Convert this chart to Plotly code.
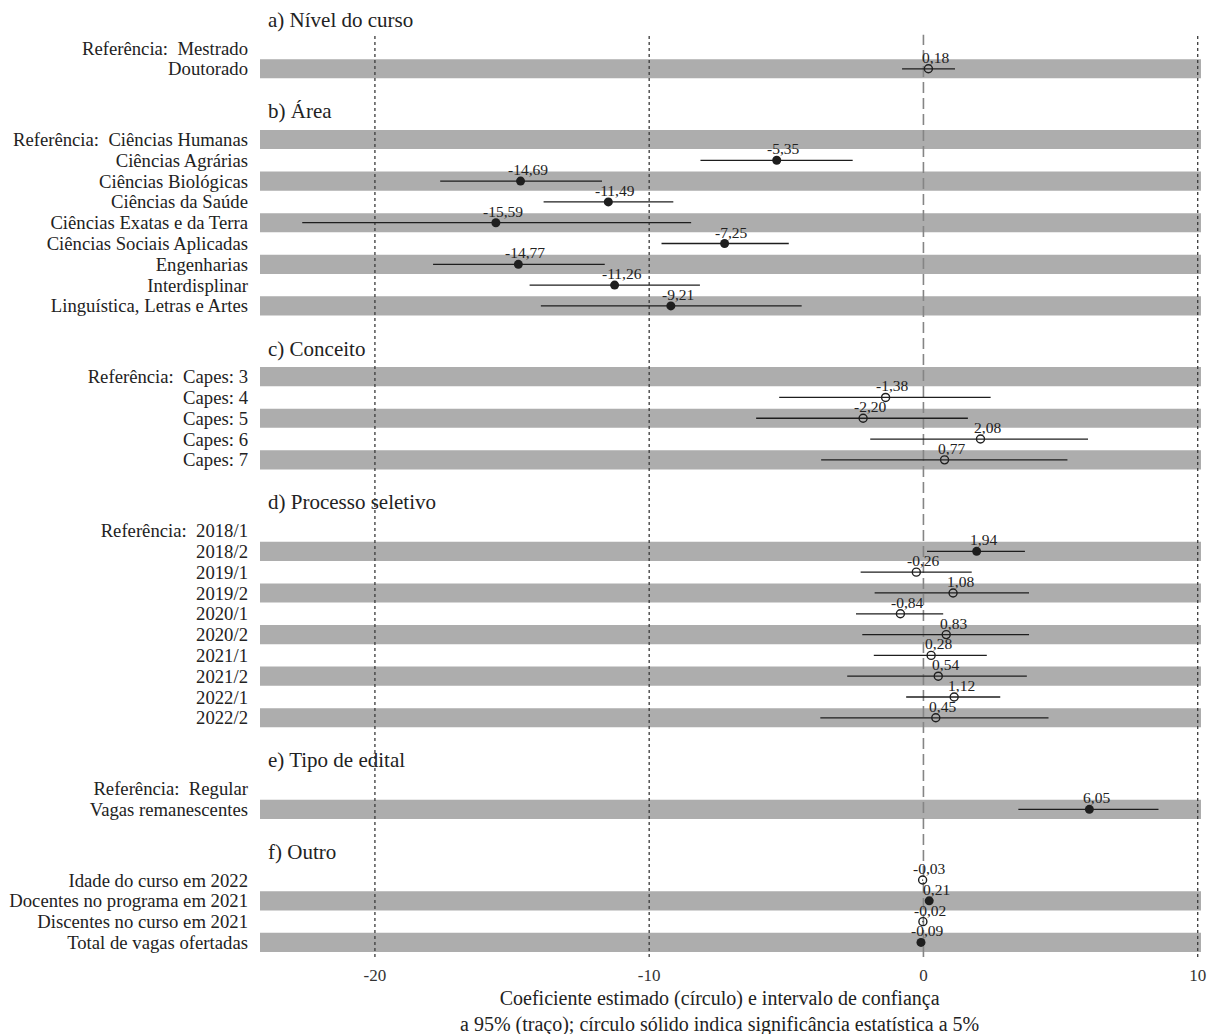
import plotly.graph_objects as go

FONT = "Liberation Serif"
INK = "#1e1e1e"
BAND = "#adadad"

# ---- Data: one set of lists per block of covariates ----
section_titles = [
    "a) Nível do curso",
    "b) Área",
    "c) Conceito",
    "d) Processo seletivo",
    "e) Tipo de edital",
    "f) Outro",
]

nivel_labels = ["Referência:\u00a0 Mestrado", "Doutorado"]
nivel_est = [None, 0.18]
nivel_lo = [None, -0.78]
nivel_hi = [None, 1.15]
nivel_sig = [False, False]

area_labels = [
    "Referência:\u00a0 Ciências Humanas",
    "Ciências Agrárias",
    "Ciências Biológicas",
    "Ciências da Saúde",
    "Ciências Exatas e da Terra",
    "Ciências Sociais Aplicadas",
    "Engenharias",
    "Interdisplinar",
    "Linguística, Letras e Artes",
]
area_est = [None, -5.35, -14.69, -11.49, -15.59, -7.25, -14.77, -11.26, -9.21]
area_lo = [None, -8.13, -17.62, -13.85, -22.65, -9.55, -17.88, -14.36, -13.95]
area_hi = [None, -2.58, -11.72, -9.12, -8.47, -4.91, -11.62, -8.15, -4.44]
area_sig = [False, True, True, True, True, True, True, True, True]

conceito_labels = ["Referência:\u00a0 Capes: 3", "Capes: 4", "Capes: 5", "Capes: 6", "Capes: 7"]
conceito_est = [None, -1.38, -2.20, 2.08, 0.77]
conceito_lo = [None, -5.26, -6.10, -1.94, -3.73]
conceito_hi = [None, 2.45, 1.62, 6.00, 5.25]
conceito_sig = [False, False, False, False, False]

processo_labels = [
    "Referência:\u00a0 2018/1", "2018/2", "2019/1", "2019/2", "2020/1",
    "2020/2", "2021/1", "2021/2", "2022/1", "2022/2",
]
processo_est = [None, 1.94, -0.26, 1.08, -0.84, 0.83, 0.28, 0.54, 1.12, 0.45]
processo_lo = [None, 0.13, -2.29, -1.78, -2.46, -2.23, -1.81, -2.78, -0.63, -3.76]
processo_hi = [None, 3.70, 1.76, 3.85, 0.72, 3.85, 2.31, 3.77, 2.80, 4.56]
processo_sig = [False, True, False, False, False, False, False, False, False, False]

edital_labels = ["Referência:\u00a0 Regular", "Vagas remanescentes"]
edital_est = [None, 6.05]
edital_lo = [None, 3.46]
edital_hi = [None, 8.57]
edital_sig = [False, True]

outro_labels = [
    "Idade do curso em 2022",
    "Docentes no programa em 2021",
    "Discentes no curso em 2021",
    "Total de vagas ofertadas",
]
outro_est = [-0.03, 0.21, -0.02, -0.09]
outro_lo = [-0.05, 0.17, -0.04, -0.12]
outro_hi = [-0.01, 0.25, 0.00, -0.06]
outro_sig = [False, True, False, True]

x_ticks = [-20, -10, 0, 10]
x_title = ("Coeficiente estimado (círculo) e intervalo de confiança<br>"
           "a 95% (traço); círculo sólido indica significância estatística a 5%")

blocks = [
    (nivel_labels, nivel_est, nivel_lo, nivel_hi, nivel_sig),
    (area_labels, area_est, area_lo, area_hi, area_sig),
    (conceito_labels, conceito_est, conceito_lo, conceito_hi, conceito_sig),
    (processo_labels, processo_est, processo_lo, processo_hi, processo_sig),
    (edital_labels, edital_est, edital_lo, edital_hi, edital_sig),
    (outro_labels, outro_est, outro_lo, outro_hi, outro_sig),
]

# ---- Layout of rows: one unit per row, extra space between blocks ----
ROW_GAP = 2.4        # extra space between blocks
HEADER_OFF = 1.35    # block title sits above its first row
BAND_H = 0.92

rows = []            # (y, label, est, lo, hi, sig, banded)
headers = []
pos = 0.0
for i, (labels, est, lo, hi, sig) in enumerate(blocks):
    if i > 0:
        pos += 1 + ROW_GAP
    headers.append((section_titles[i], pos - HEADER_OFF))
    n = len(labels)
    for j in range(n):
        y = pos + j
        banded = (n - 1 - j) % 2 == 0
        rows.append((y, labels[j], est[j], lo[j], hi[j], sig[j], banded))
    pos += n - 1

y_top = -0.72
y_bottom = pos + 0.7
x_min, x_max = -24.19, 10.12


def to_paper(yv):
    # reversed y axis: y_bottom sits at paper 0, y_top at paper 1
    return (y_bottom - yv) / (y_bottom - y_top)


fig = go.Figure()

shapes = []
for y, _, _, _, _, _, banded in rows:
    if banded:
        shapes.append(dict(type="rect", xref="paper", yref="y", x0=0, x1=1,
                           y0=y - BAND_H / 2, y1=y + BAND_H / 2,
                           fillcolor=BAND, line=dict(width=0), layer="below"))
for xv in x_ticks:
    if xv == 0:
        shapes.append(dict(type="line", xref="x", yref="paper", x0=xv, x1=xv,
                           y0=0, y1=0.998, layer="below",
                           line=dict(color="#858585", width=1.6, dash="11px,5px")))
    else:
        shapes.append(dict(type="line", xref="x", yref="paper", x0=xv, x1=xv,
                           y0=0, y1=0.998, layer="below",
                           line=dict(color="#3a3a3a", width=1.3, dash="dot")))

# confidence intervals
ci_x, ci_y = [], []
for y, _, e, lo, hi, _, _ in rows:
    if e is None:
        continue
    ci_x += [lo, hi, None]
    ci_y += [y, y, None]
fig.add_trace(go.Scatter(x=ci_x, y=ci_y, mode="lines",
                         line=dict(color=INK, width=1.3), hoverinfo="skip",
                         showlegend=False))

# point estimates: solid = significant, open = not significant
sx = [e for y, _, e, _, _, s, _ in rows if e is not None and s]
sy = [y for y, _, e, _, _, s, _ in rows if e is not None and s]
ox = [e for y, _, e, _, _, s, _ in rows if e is not None and not s]
oy = [y for y, _, e, _, _, s, _ in rows if e is not None and not s]
fig.add_trace(go.Scatter(x=sx, y=sy, mode="markers",
                         marker=dict(symbol="circle", size=9, color=INK),
                         showlegend=False))
fig.add_trace(go.Scatter(x=ox, y=oy, mode="markers",
                         marker=dict(symbol="circle-open", size=8, color=INK,
                                     line=dict(width=1.4, color=INK)),
                         showlegend=False))

annotations = []
for y, _, e, _, _, _, _ in rows:
    if e is None:
        continue
    annotations.append(dict(x=e, y=y, xref="x", yref="y",
                            text=f"{e:.2f}".replace(".", ","),
                            showarrow=False, xanchor="center", yanchor="bottom",
                            xshift=7, yshift=1,
                            font=dict(family=FONT, size=15.5, color="#222")))
for title, hy in headers:
    annotations.append(dict(x=0, y=to_paper(hy), xref="paper", yref="paper",
                            text=title, showarrow=False, xanchor="left",
                            yanchor="middle", xshift=6,
                            font=dict(family=FONT, size=21, color="#222")))
# axis caption under the tick labels
annotations.append(dict(x=0.5, y=0, xref="paper", yref="paper", text=x_title,
                        showarrow=False, xanchor="center", yanchor="middle",
                        xshift=-11, yshift=-54,
                        font=dict(family=FONT, size=20, color="#222")))

fig.update_layout(
    width=1214, height=1034,
    margin=dict(l=260, r=13, t=33, b=77, autoexpand=False),
    paper_bgcolor="white", plot_bgcolor="white",
    shapes=shapes, annotations=annotations,
    showlegend=False,
    xaxis=dict(range=[x_min, x_max], tickvals=x_ticks, automargin=False,
               ticktext=[str(v) for v in x_ticks], showgrid=False,
               zeroline=False, showline=False, ticks="", ticklabelstandoff=6,
               tickfont=dict(family=FONT, size=17, color="#333")),
    yaxis=dict(range=[y_bottom, y_top], tickvals=[r[0] for r in rows],
               automargin=False,
               ticktext=[r[1] for r in rows], showgrid=False, zeroline=False,
               showline=False, ticks="", ticklabelstandoff=11,
               tickfont=dict(family=FONT, size=18.7, color="#222")),
)

fig.write_html("out.html")
